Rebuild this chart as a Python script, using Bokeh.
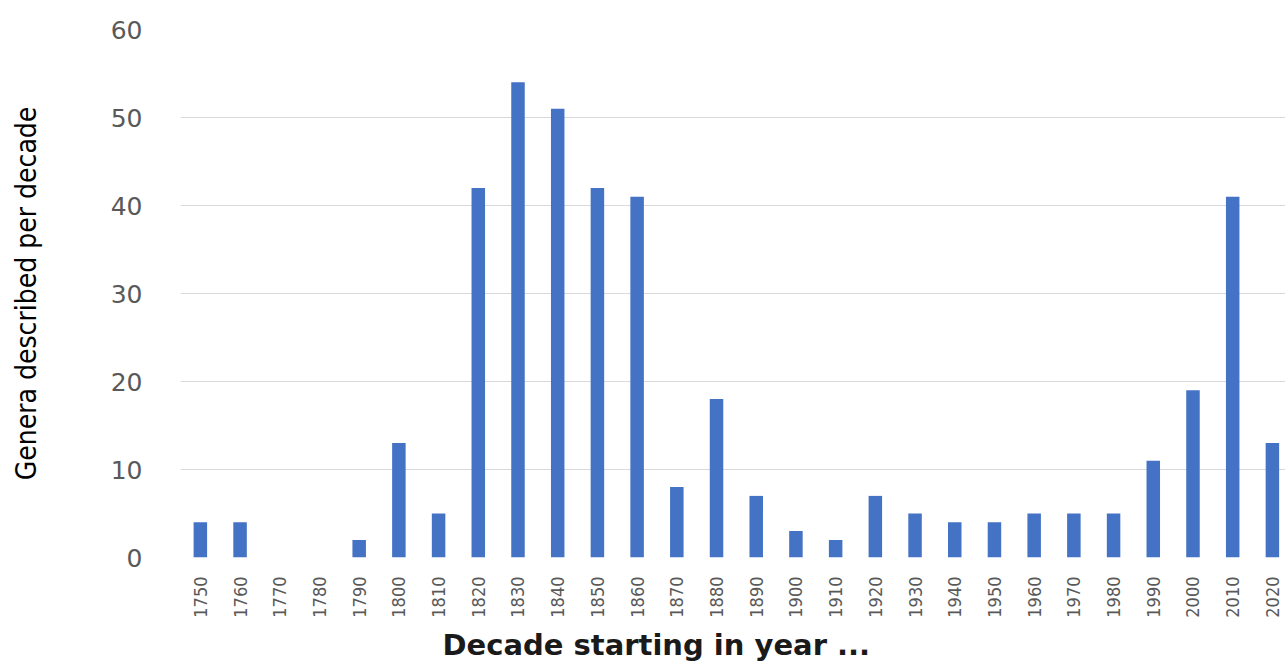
import math
from bokeh.plotting import figure
from bokeh.models import FixedTicker, Range1d, Title
from bokeh.embed import file_html
from bokeh.resources import INLINE

decades = [1750, 1760, 1770, 1780, 1790, 1800, 1810, 1820, 1830, 1840,
           1850, 1860, 1870, 1880, 1890, 1900, 1910, 1920, 1930, 1940,
           1950, 1960, 1970, 1980, 1990, 2000, 2010, 2020]
genera = [4, 4, 0, 0, 2, 13, 5, 42, 54, 51,
          42, 41, 8, 18, 7, 3, 2, 7, 5, 4,
          4, 5, 5, 5, 11, 19, 41, 13]
y_ticks = [0, 10, 20, 30, 40, 50, 60]

p = figure(width=1285, height=668, output_backend="svg", toolbar_location=None,
           x_range=Range1d(1745, 2023.3), y_range=Range1d(0, 60),
           min_border_left=180, min_border_top=29, min_border_right=0,
           min_border_bottom=111)

p.vbar(x=decades, top=genera, width=3.4, fill_color="#4472C4", line_color=None)

p.outline_line_color = None
p.xgrid.grid_line_color = None
p.ygrid.grid_line_color = "#D9D9D9"
p.ygrid.grid_line_width = 1.2

p.xaxis.ticker = FixedTicker(ticks=decades)
p.xaxis.major_label_orientation = math.pi / 2
p.xaxis.major_label_text_font = "DejaVu Sans Condensed"
p.xaxis.major_label_text_font_size = "18px"
p.xaxis.major_label_text_color = "#595959"
p.xaxis.major_label_standoff = 13
p.xaxis.axis_line_color = None
p.xaxis.major_tick_line_color = None
p.xaxis.minor_tick_line_color = None

p.yaxis.ticker = FixedTicker(ticks=y_ticks)
p.yaxis.major_label_text_font = "DejaVu Sans"
p.yaxis.major_label_text_font_size = "25px"
p.yaxis.major_label_text_color = "#595959"
p.yaxis.major_label_standoff = 32
p.yaxis.axis_line_color = None
p.yaxis.major_tick_line_color = None
p.yaxis.minor_tick_line_color = None
p.yaxis.axis_label = "Genera described per decade"
p.yaxis.axis_label_text_font = "DejaVu Sans Condensed"
p.yaxis.axis_label_text_font_size = "28px"
p.yaxis.axis_label_text_font_style = "normal"
p.yaxis.axis_label_text_color = "#000000"
p.yaxis.axis_label_standoff = 65

p.add_layout(Title(text="Decade starting in year ...", align="left", offset=262,
                   standoff=10,
                   text_font="DejaVu Sans", text_font_size="29px",
                   text_font_style="bold", text_color="#1a1a1a"), "below")

open("out.html", "w").write(file_html(p, INLINE))
